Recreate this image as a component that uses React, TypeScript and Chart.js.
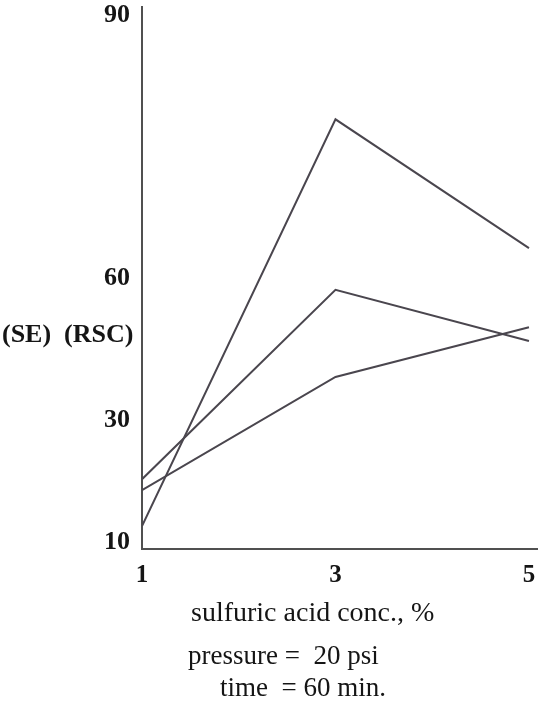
import React, { useEffect, useRef } from "react";
import { Chart, registerables, LinearScale } from "chart.js";

// ---- data ----
const CONC = [1, 3, 5]; // sulfuric acid conc., %
const SERIES_A = [12.6, 78.1, 63.4];
const SERIES_B = [20.3, 57.5, 46.7];
const SERIES_C = [18.5, 39.1, 49.6];
const X_TICKS = [1, 3, 5];
const Y_TICKS = [10, 30, 60, 90];

// the printed value axis is not evenly spaced: calibration of tick value -> relative axis position
const Y_CAL_VALUES = [10, 30, 60, 90];
const Y_CAL_POS = [7, 129, 271, 534];
const Y_POS_MAX = 542;

function interp(v: number, xs: number[], ys: number[]) {
  let i = 0;
  if (v <= xs[0]) i = 0;
  else if (v >= xs[xs.length - 1]) i = xs.length - 2;
  else {
    while (i < xs.length - 2 && v > xs[i + 1]) i++;
  }
  const t = (v - xs[i]) / (xs[i + 1] - xs[i]);
  return ys[i] + t * (ys[i + 1] - ys[i]);
}

class CalibratedScale extends LinearScale {
  static id = "calibrated";
  static defaults = LinearScale.defaults;
  getPixelForValue(value: any) {
    if (value === null || value === undefined || isNaN(value)) return NaN;
    return super.getPixelForValue(interp(value, Y_CAL_VALUES, Y_CAL_POS));
  }
  getValueForPixel(pixel: number) {
    return interp(super.getValueForPixel(pixel), Y_CAL_POS, Y_CAL_VALUES);
  }
}

Chart.register(...registerables, CalibratedScale);

const INK = "#151515";
const LINE = "#4a464e";
const AXIS = "#505050";

export default function App() {
  const ref = useRef<HTMLCanvasElement | null>(null);

  useEffect(() => {
    document.body.style.margin = "0";
    const canvas = ref.current;
    if (!canvas) return;
    const mk = (label: string, ys: number[]) => ({
      label,
      data: CONC.map((x, i) => ({ x, y: ys[i] })),
      borderColor: LINE,
      borderWidth: 2,
      pointRadius: 0,
      tension: 0,
      fill: false,
    });
    const chart = new Chart(canvas, {
      type: "line",
      data: {
        datasets: [mk("A", SERIES_A), mk("B", SERIES_B), mk("C", SERIES_C)],
      },
      options: {
        animation: false,
        responsive: false,
        layout: { padding: { top: 7, right: 1, left: 0, bottom: 0 } },
        plugins: { legend: { display: false }, tooltip: { enabled: false } },
        scales: {
          x: {
            type: "linear",
            min: 1,
            max: 5.083,
            grid: { display: false, drawTicks: false },
            border: { display: true, color: AXIS, width: 2 },
            ticks: {
              color: INK,
              padding: 12,
              font: { family: "Liberation Serif", size: 25, weight: "bold" },
              callback: (v: any) => String(v),
            },
            afterBuildTicks: (s: any) => {
              s.ticks = X_TICKS.map((value) => ({ value }));
            },
            afterFit: (s: any) => {
              s.height = 156;
              s.paddingLeft = 0;
              s.paddingRight = 0;
            },
          },
          y: {
            type: "calibrated" as any,
            min: 0,
            max: Y_POS_MAX,
            bounds: "data",
            grid: { display: false, drawTicks: false },
            border: { display: true, color: AXIS, width: 2 },
            ticks: {
              color: INK,
              padding: 12,
              font: { family: "Liberation Serif", size: 26, weight: "bold" },
              callback: (v: any) => String(v),
            },
            afterBuildTicks: (s: any) => {
              s.ticks = Y_TICKS.map((value) => ({ value }));
            },
            afterFit: (s: any) => {
              s.width = 142;
              s.paddingTop = 0;
              s.paddingBottom = 0;
            },
          } as any,
        },
      },
    });
    return () => chart.destroy();
  }, []);

  const serif = "'Liberation Serif', 'DejaVu Serif', serif";
  return (
    <div style={{ position: "relative", width: 538, height: 705, background: "#fff", overflow: "hidden" }}>
      <canvas ref={ref} width={538} height={705} style={{ display: "block" }} />
      <div
        style={{
          position: "absolute", left: 2, top: 321, fontFamily: serif, fontWeight: "bold",
          fontSize: 26, lineHeight: "26px", color: INK, whiteSpace: "pre",
        }}
      >
        {"(SE)  (RSC)"}
      </div>
      <div
        style={{
          position: "absolute", left: 191, top: 598, fontFamily: serif, fontSize: 28,
          lineHeight: "28px", color: INK, whiteSpace: "pre",
        }}
      >
        {"sulfuric acid conc., %"}
      </div>
      <div
        style={{
          position: "absolute", left: 188, top: 641, fontFamily: serif, fontSize: 27,
          lineHeight: "28px", color: INK, whiteSpace: "pre",
        }}
      >
        {"pressure =  20 psi"}
      </div>
      <div
        style={{
          position: "absolute", left: 220, top: 673, fontFamily: serif, fontSize: 27,
          lineHeight: "28px", color: INK, whiteSpace: "pre",
        }}
      >
        {"time  = 60 min."}
      </div>
    </div>
  );
}
